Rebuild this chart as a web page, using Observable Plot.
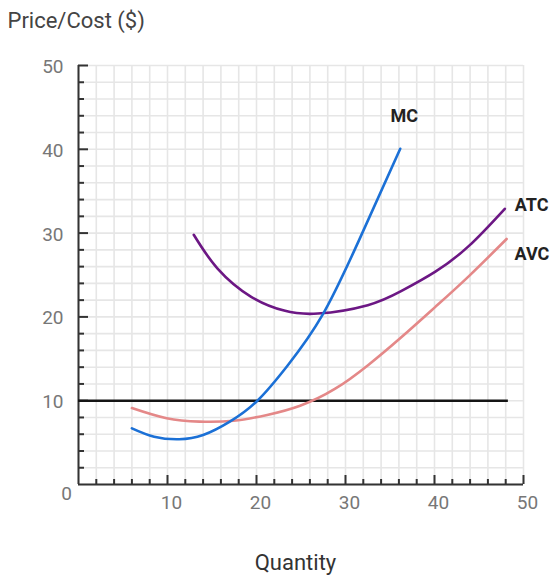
<!DOCTYPE html>
<html>
<head>
<meta charset="utf-8">
<script src="https://cdn.jsdelivr.net/npm/d3@7"></script>
<script src="https://cdn.jsdelivr.net/npm/@observablehq/plot@0.6"></script>
<style>
  body { margin: 0; background: #fff; }
  #chart svg { display: block; }
</style>
</head>
<body>
<div id="chart"></div>
<script>
// Cost curves of a firm (quantity vs $ per unit)
const mcQuantity  = [6, 8.5, 11.3, 14, 17, 20.1, 23.5, 27.4, 31.5, 36.15];
const mcCost      = [6.7, 5.7, 5.4, 5.9, 7.5, 10.0, 14.2, 20.2, 29.1, 40.06];

const atcQuantity = [12.95, 15.6, 19.4, 23.1, 26.9, 32.5, 36.3, 40.1, 43.9, 47.9];
const atcCost     = [29.8, 25.8, 22.4, 20.75, 20.4, 21.4, 23.1, 25.4, 28.5, 32.9];

const avcQuantity = [6.0, 9.9, 13.6, 17.4, 21.2, 24.9, 28.8, 32.6, 36.3, 40.1, 43.9, 48.1];
const avcCost     = [9.12, 7.9, 7.5, 7.6, 8.3, 9.4, 11.4, 14.3, 17.6, 21.2, 24.9, 29.3];

// Market price line
const price = 10;
const priceLineEnd = 48.3;

// Axis ticks
const majorTicks = [10, 20, 30, 40, 50];
const minorTicks = [2, 4, 6, 8, 12, 14, 16, 18, 22, 24, 26, 28, 32, 34, 36, 38, 42, 44, 46, 48];
const gridTicks = [0, ...minorTicks, ...majorTicks];

const curveNames = ["MC", "ATC", "AVC"];
const curveColors = ["#1b70d6", "#6c1784", "#e48888"];

const toRows = (name, qs, ps) => qs.map((q, i) => ({ name, q, p: ps[i] }));
const mc = toRows("MC", mcQuantity, mcCost);
const atc = toRows("ATC", atcQuantity, atcCost);
const avc = toRows("AVC", avcQuantity, avcCost);

const W = 560, H = 580;
const mL = 78, mR = 37, mT = 65, mB = 96;
const frameW = W - mL - mR, frameH = H - mT - mB;
const font = "Roboto, 'Liberation Sans', sans-serif";

const chart = Plot.plot({
  width: W,
  height: H,
  marginLeft: mL,
  marginRight: mR,
  marginTop: mT,
  marginBottom: mB,
  style: { fontFamily: font, background: "#fff", overflow: "visible" },
  x: { domain: [0, 50] },
  y: { domain: [0, 50] },
  color: { domain: curveNames, range: curveColors },
  marks: [
    // light grid every 2 units
    Plot.gridX(gridTicks, { stroke: "#e6e6e6", strokeOpacity: 1, strokeWidth: 1.6 }),
    Plot.gridY(gridTicks, { stroke: "#e6e6e6", strokeOpacity: 1, strokeWidth: 1.6 }),

    // tick labels
    Plot.axisY(majorTicks, { tickSize: 0, tickPadding: 15, fontSize: 19, fill: "#777", dy: 1.5, label: null }),
    Plot.axisX(majorTicks, { tickSize: 0, tickPadding: 11, fontSize: 19, fill: "#777", dx: 4, label: null }),
    Plot.text(["0"], { x: 0, y: 0, dx: -12, dy: 9, fontSize: 19, fill: "#777" }),

    // inward tick marks
    Plot.ruleX(majorTicks, { stroke: "#333", strokeWidth: 2, insetTop: frameH - 9 }),
    Plot.ruleX(minorTicks, { stroke: "#333", strokeWidth: 2, insetTop: frameH - 5 }),
    Plot.ruleY(majorTicks, { stroke: "#333", strokeWidth: 2, insetRight: frameW - 10 }),
    Plot.ruleY(minorTicks, { stroke: "#333", strokeWidth: 2, insetRight: frameW - 6 }),

    // axis lines
    Plot.ruleX([0], { stroke: "#333", strokeWidth: 2 }),
    Plot.ruleY([0], { stroke: "#333", strokeWidth: 2 }),

    // price line
    Plot.ruleY([price], { x1: 0, x2: priceLineEnd, stroke: "#151515", strokeWidth: 2.6 }),

    // cost curves
    Plot.line(avc, { x: "q", y: "p", stroke: "name", strokeWidth: 2.6, curve: "natural" }),
    Plot.line(atc, { x: "q", y: "p", stroke: "name", strokeWidth: 2.6, curve: "natural" }),
    Plot.line(mc, { x: "q", y: "p", stroke: "name", strokeWidth: 2.6, curve: "natural" }),

    // curve labels
    Plot.text([mc[mc.length - 1]], { x: "q", y: "p", text: "name", dx: 4, dy: -33, fontSize: 18, fontWeight: "bold", fill: "#222" }),
    Plot.text([atc[atc.length - 1]], { x: "q", y: "p", text: "name", dx: 10, dy: -4, textAnchor: "start", fontSize: 18, fontWeight: "bold", fill: "#222" }),
    Plot.text([avc[avc.length - 1]], { x: "q", y: "p", text: "name", dx: 8, dy: 15, textAnchor: "start", fontSize: 18, fontWeight: "bold", fill: "#222" }),

    // axis titles
    Plot.text(["Price/Cost ($)"], { frameAnchor: "top-left", lineAnchor: "middle", dx: 7 - mL, dy: 20 - mT, textAnchor: "start", fontSize: 22, fill: "#444" }),
    Plot.text(["Quantity"], { frameAnchor: "bottom", lineAnchor: "middle", dx: -5.5, dy: 78, fontSize: 22, fill: "#333" })
  ]
});

document.getElementById("chart").appendChild(chart);
</script>
</body>
</html>
